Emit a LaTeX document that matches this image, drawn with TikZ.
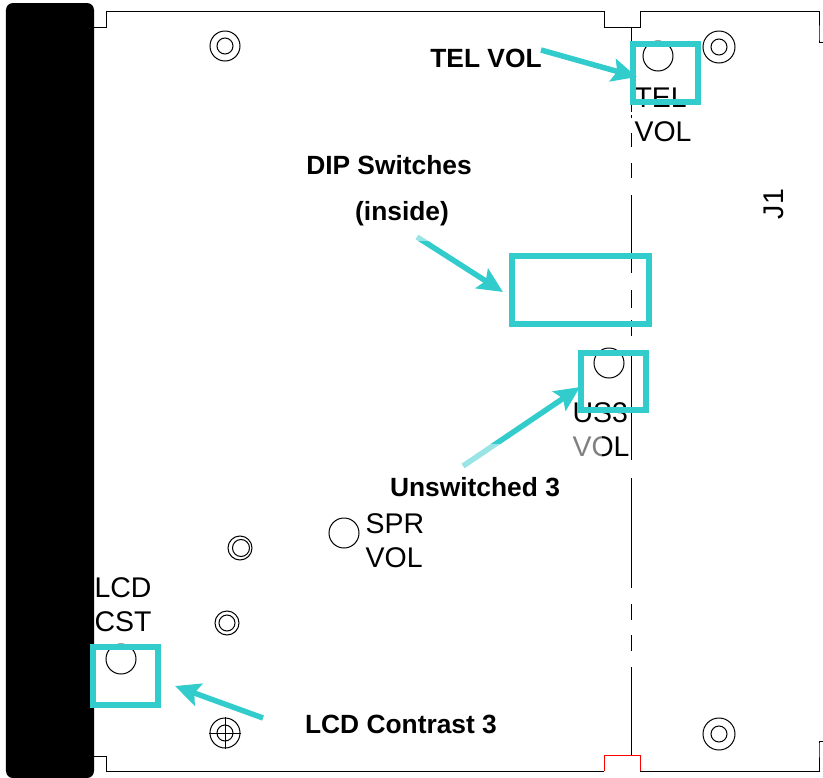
\documentclass[tikz,border=0pt]{standalone}
\usepackage{xcolor}
\usepackage{fontspec}
\usepackage{tikz}
\usetikzlibrary{arrows.meta}
\setmainfont{Liberation Sans}
\definecolor{markteal}{HTML}{33CCCC}
\tikzset{
  outline/.style={line width=0.02cm},
  marker/.style={draw=markteal,line width=0.12cm},
  pointer/.style={markteal,line width=0.11cm,-{Stealth[length=0.5cm,width=0.46cm,inset=0.09cm]}},
  partlabel/.style={font=\fontsize{16.2}{19.3}\selectfont,inner sep=0pt,align=left},
  calllabel/.style={font=\fontsize{15}{18}\selectfont\bfseries,inner sep=0pt},
}
\begin{document}
\begin{tikzpicture}[x=0.02cm,y=-0.02cm]
\useasboundingbox (0,0) rectangle (823,778);

% Drawing board outline
\draw [outline] (94,27) -- (106,27) -- (106,11.5) -- (604,11.5) -- (604,27) -- (640,27) -- (640,11.5) -- (819,11.5) -- (819,39) -- (819,42) -- (823,42);
\draw [outline] (94,756) -- (106,756) -- (106,771) -- (604,771);
\draw [outline] (640,771) -- (819,771) -- (819,744) -- (819,741) -- (823,741);
\draw [outline,red] (604,771) -- (604,755) -- (640,755) -- (640,771);

% Drawing fold line
\draw [outline] (631,27) -- (631,112);
\draw [outline] (631,115) -- (631,118);
\draw [outline] (631,133) -- (631,147);
\draw [outline] (631,163) -- (631,178);
\draw [outline] (631,195) -- (631,273);
\draw [outline] (631,290) -- (631,308);
\draw [outline] (631,320) -- (631,336);
\draw [outline] (631,350) -- (631,460);
\draw [outline] (631,478) -- (631,588);
\draw [outline] (631,604) -- (631,620);
\draw [outline] (631,635) -- (631,651);
\draw [outline] (631,667) -- (631,755);

% Drawing mounting holes
\foreach \holex/\holey/\rout/\rin in {225/46/15/8,719/47/16/8,719/734/16/8,227/623/12/8,225/733/15/8}
  \draw [outline] (\holex,\holey) circle [radius=\rout] (\holex,\holey) circle [radius=\rin];
\draw [outline] (240,548) circle [radius=12] (241,548) circle [radius=8.5];
\draw [outline] (209,733) -- (241,733) (225,717) -- (225,749);

% Drawing open holes
\foreach \holex/\holey in {658/56,609/363,344/533,121/659}
  \draw [outline] (\holex,\holey) circle [radius=15];

% Part labels
\node [partlabel] (telvol) at (663,115) {TEL\\VOL};
\node [partlabel] (ussvol) at (601,430) {US3\\VOL};
\node [partlabel] (sprvol) at (395,541) {SPR\\VOL};
\node [partlabel] (lcdcst) at (123,605) {LCD\\CST};
\node [partlabel,rotate=90] (jone) at (774,204) {J1};

% Black end panel
\fill [rounded corners=0.14cm] (6,3) rectangle (94,778);

% Marker boxes
\coordinate (telboxa) at (633,44);
\coordinate (telboxb) at (698,102);
\coordinate (dipboxa) at (512,256);
\coordinate (dipboxb) at (649,324);
\coordinate (ussboxa) at (581,353);
\coordinate (ussboxb) at (646,410);
\coordinate (lcdboxa) at (93,647);
\coordinate (lcdboxb) at (158,705);
\draw [marker] (telboxa) rectangle (telboxb);
\draw [marker] (dipboxa) rectangle (dipboxb);
\draw [marker] (ussboxa) rectangle (ussboxb);
\draw [marker] (lcdboxa) rectangle (lcdboxb);

% Callout labels
\node [calllabel] (tellabel) at (486,58) {TEL VOL};
\node [calllabel] (diplabel) at (389,165) {DIP Switches};
\node [calllabel] (inslabel) at (402,214) {(inside)};
\node [calllabel] (unslabel) at (475,487) {Unswitched 3};
\node [calllabel] (lcdlabel) at (401,724) {LCD Contrast 3};

% Drawing arrows
\coordinate (telstart) at (541,50);
\coordinate (teltip) at (637,77);
\coordinate (dipstart) at (417,237);
\coordinate (diptip) at (503,292);
\coordinate (ussstart) at (463,466);
\coordinate (usstip) at (580,387);
\coordinate (lcdstart) at (263,718);
\coordinate (lcdtip) at (175,686);
\draw [pointer] (telstart) -- (teltip);
\draw [pointer] (dipstart) -- (diptip);
\draw [pointer] (ussstart) -- (usstip);
\draw [pointer] (lcdstart) -- (lcdtip);

% Faded text boxes over arrow tails
\fill [white,opacity=0.5] (410,230) rectangle (430,241);
\fill [white,opacity=0.5] (460,444) rectangle (570,470);
\fill [white,opacity=0.5] (570,434) rectangle (602,470);
\end{tikzpicture}
\end{document}
